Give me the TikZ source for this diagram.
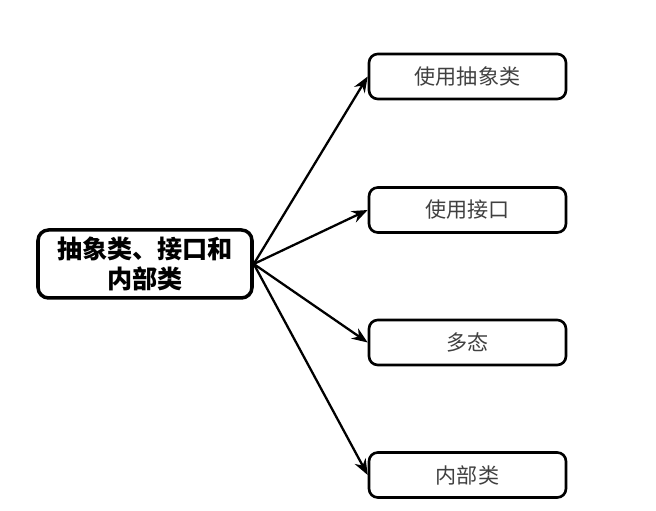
\documentclass[tikz,border=0pt]{standalone}
\usepackage{fontspec}
\newfontfamily\cjk{Noto Sans CJK SC}
\usetikzlibrary{arrows.meta}

\begin{document}
\begin{tikzpicture}[
    topicbox/.style={draw, line width=2pt, rounded corners=6pt, minimum width=4.28cm, minimum height=1.36cm, align=center, font=\cjk\bfseries\fontsize{14.3}{17.5}\selectfont},
    itembox/.style={draw, line width=1.5pt, rounded corners=5pt, minimum width=3.94cm, minimum height=0.9cm, text=black!75, font=\cjk\fontsize{12}{14}\selectfont},
    link/.style={-{Stealth[length=9pt,width=7pt]}, line width=1.3pt}
]
    \useasboundingbox (0,0) rectangle (13.12,10.22);
    \node[topicbox] (topic) at (2.9,4.94) {抽象类、接口和\\内部类};
    \node[itembox] (abs) at (9.35,8.69) {使用抽象类};
    \node[itembox] (iface) at (9.35,6.02) {使用接口};
    \node[itembox] (poly) at (9.35,3.37) {多态};
    \node[itembox] (inner) at (9.35,0.72) {内部类};
    \draw[link] (topic.east) -- (abs.west);
    \draw[link] (topic.east) -- (iface.west);
    \draw[link] (topic.east) -- (poly.west);
    \draw[link] (topic.east) -- (inner.west);
\end{tikzpicture}
\end{document}
